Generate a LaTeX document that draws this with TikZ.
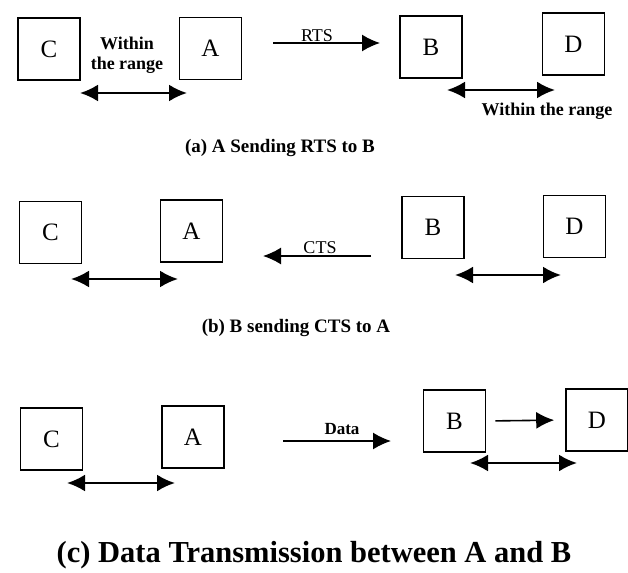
\documentclass[tikz,border=0pt]{standalone}
\usepackage{fontspec}
\setmainfont{Liberation Serif}
\usetikzlibrary{arrows.meta}

\begin{document}
\begin{tikzpicture}[x=1pt,y=-1pt,
  station/.style={draw,line width=1.6pt,minimum width=62pt,minimum height=62pt,inner sep=0pt,font=\fontsize{25}{25}\selectfont},
  reacharrow/.style={line width=2.4pt,{Latex[length=18pt,width=17pt]}-{Latex[length=18pt,width=17pt]}},
  msgarrow/.style={line width=1.6pt,-{Latex[length=18pt,width=17pt]}},
  note/.style={font=\bfseries\fontsize{18}{20}\selectfont,align=center},
  caption/.style={font=\bfseries\fontsize{19}{22}\selectfont}]
  \useasboundingbox (0,0) rectangle (628,572);
  \node[station] (C1) at (49,49)      {C};
  \node[station] (A1) at (210.5,48.5) {A};
  \node[station] (B1) at (431,47)     {B};
  \node[station] (D1) at (573.5,44)   {D};
  \node[station] (C2) at (50.5,232.5) {C};
  \node[station] (A2) at (191.5,231)  {A};
  \node[station] (B2) at (433,227.5)  {B};
  \node[station] (D2) at (574.5,226.5) {D};
  \node[station] (C3) at (51.5,439)   {C};
  \node[station] (A3) at (193,437)    {A};
  \node[station] (B3) at (454.5,421)  {B};
  \node[station] (D3) at (597,420)    {D};
  \coordinate (ca1l) at (80,93);   \coordinate (ca1r) at (187,93);
  \coordinate (bd1l) at (447,90);  \coordinate (bd1r) at (555,90);
  \coordinate (rts1) at (273,43);  \coordinate (rts2) at (380,43);
  \coordinate (ca2l) at (71,279);  \coordinate (ca2r) at (178,279);
  \coordinate (bd2l) at (455,275); \coordinate (bd2r) at (561,275);
  \coordinate (cts1) at (371,256); \coordinate (cts2) at (263,256);
  \coordinate (ca3l) at (67,483);  \coordinate (ca3r) at (175,483);
  \coordinate (bd3l) at (470,463); \coordinate (bd3r) at (577,463);
  \coordinate (dat1) at (283,441); \coordinate (dat2) at (391,441);
  \node[note] (w1) at (127,55)  {Within\\the range};
  \node[note] (w2) at (547,111) {Within the range};
  \node[font=\fontsize{18}{18}\selectfont,anchor=base] (rts) at (317,41.5) {RTS};
  \node[font=\fontsize{18}{18}\selectfont,anchor=base] (cts) at (320,253.5) {CTS};
  \node[font=\bfseries\fontsize{17}{17}\selectfont,anchor=base] (dat) at (342,434) {Data};
  \node[caption] (capa) at (280,148) {(a) A Sending RTS to B};
  \node[caption] (capb) at (296,328) {(b) B sending CTS to A};
  \node[font=\bfseries\fontsize{30.5}{34}\selectfont] (capc) at (314,555) {(c) Data Transmission between A and B};
  \draw[reacharrow] (ca1l) -- (ca1r);
  \draw[reacharrow] (bd1l) -- (bd1r);
  \draw[msgarrow] (rts1) -- (rts2);
  \draw[reacharrow] (ca2l) -- (ca2r);
  \draw[reacharrow] (bd2l) -- (bd2r);
  \draw[msgarrow] (cts1) -- (cts2);
  \draw[reacharrow] (ca3l) -- (ca3r);
  \draw[reacharrow] (bd3l) -- (bd3r);
  \draw[msgarrow] (dat1) -- (dat2);
  \draw[msgarrow,shorten <=9pt,shorten >=11pt] (B3.east) -- (D3.west);
\end{tikzpicture}
\end{document}
